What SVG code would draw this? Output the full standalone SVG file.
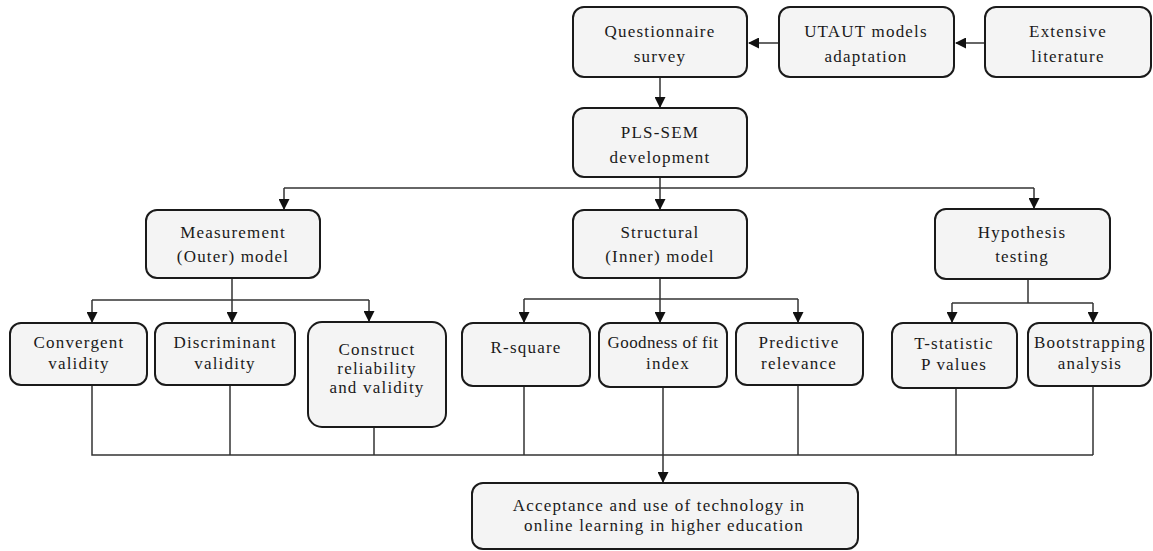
<svg xmlns="http://www.w3.org/2000/svg" width="1153" height="551" viewBox="0 0 1153 551">
<defs>
<marker id="ah" markerWidth="11" markerHeight="11" refX="10" refY="5.5" orient="auto" markerUnits="userSpaceOnUse">
<path d="M0,0 L11,5.5 L0,11 Z" fill="#111"/>
</marker>
<style>
.box{fill:#f4f4f4;stroke:#1a1a1a;stroke-width:2}
.t{font-family:"Liberation Serif","DejaVu Serif",serif;font-size:17px;fill:#1a1a1a;text-anchor:middle;letter-spacing:1.2px}
.tight{letter-spacing:0.4px}
.c{fill:none;stroke:#333;stroke-width:1.5}
</style>
</defs>
<rect width="1153" height="551" fill="#fff"/>
<g id="connectors">
<path class="c" d="M779,43 H749" marker-end="url(#ah)"/>
<path class="c" d="M985,43 H956" marker-end="url(#ah)"/>
<path class="c" d="M660,78 V107" marker-end="url(#ah)"/>
<path class="c" d="M660,178 V209" marker-end="url(#ah)"/>
<path class="c" d="M284,188 H1034"/>
<path class="c" d="M284,188 V209" marker-end="url(#ah)"/>
<path class="c" d="M1034,188 V208" marker-end="url(#ah)"/>
<path class="c" d="M232,279 V300"/>
<path class="c" d="M92,300 H369"/>
<path class="c" d="M92,300 V322" marker-end="url(#ah)"/>
<path class="c" d="M232,300 V322" marker-end="url(#ah)"/>
<path class="c" d="M369,300 V321" marker-end="url(#ah)"/>
<path class="c" d="M660,279 V299"/>
<path class="c" d="M524,299 H798"/>
<path class="c" d="M524,299 V322" marker-end="url(#ah)"/>
<path class="c" d="M660,299 V322" marker-end="url(#ah)"/>
<path class="c" d="M798,299 V322" marker-end="url(#ah)"/>
<path class="c" d="M1028,280 V303"/>
<path class="c" d="M952,303 H1093"/>
<path class="c" d="M952,303 V322" marker-end="url(#ah)"/>
<path class="c" d="M1093,303 V322" marker-end="url(#ah)"/>
<path class="c" d="M92,386 V455 H1093"/>
<path class="c" d="M230,386 V455"/>
<path class="c" d="M374,428 V455"/>
<path class="c" d="M524,387 V455"/>
<path class="c" d="M798,386 V455"/>
<path class="c" d="M956,389 V455"/>
<path class="c" d="M1093,387 V455"/>
<path class="c" d="M663,388 V482" marker-end="url(#ah)"/>
</g>
<g id="questionnaire"><rect class="box" x="573" y="7" width="174" height="70" rx="11"/><text class="t" x="660" y="37">Questionnaire</text><text class="t" x="660" y="62">survey</text></g>
<g id="utaut"><rect class="box" x="779" y="7" width="175" height="70" rx="11"/><text class="t" x="866" y="37">UTAUT models</text><text class="t" x="866" y="62">adaptation</text></g>
<g id="literature"><rect class="box" x="985" y="7" width="166" height="70" rx="11"/><text class="t" x="1068" y="37">Extensive</text><text class="t" x="1068" y="62">literature</text></g>
<g id="plssem"><rect class="box" x="573" y="108" width="174" height="69" rx="11"/><text class="t" x="660" y="138">PLS-SEM</text><text class="t" x="660" y="163">development</text></g>
<g id="measurement"><rect class="box" x="146" y="210" width="174" height="68" rx="11"/><text class="t" x="233" y="238">Measurement</text><text class="t" x="233" y="262">(Outer) model</text></g>
<g id="structural"><rect class="box" x="573" y="210" width="174" height="68" rx="11"/><text class="t" x="660" y="238">Structural</text><text class="t" x="660" y="262">(Inner) model</text></g>
<g id="hypothesis"><rect class="box" x="935" y="209" width="175" height="70" rx="11"/><text class="t" x="1022" y="238">Hypothesis</text><text class="t" x="1022" y="262">testing</text></g>
<g id="convergent"><rect class="box" x="10" y="323" width="137" height="62" rx="11"/><text class="t" x="79" y="348">Convergent</text><text class="t" x="79" y="369">validity</text></g>
<g id="discriminant"><rect class="box" x="155" y="323" width="140" height="62" rx="11"/><text class="t" x="225" y="348">Discriminant</text><text class="t" x="225" y="369">validity</text></g>
<g id="construct"><rect class="box" x="308" y="322" width="138" height="105" rx="14"/><text class="t" x="377" y="355">Construct</text><text class="t" x="377" y="374">reliability</text><text class="t" x="377" y="393">and validity</text></g>
<g id="rsquare"><rect class="box" x="462" y="323" width="128" height="63" rx="11"/><text class="t" x="526" y="353">R-square</text></g>
<g id="goodness"><rect class="box" x="599" y="323" width="128" height="64" rx="11"/><text class="t tight" x="663" y="348">Goodness of fit</text><text class="t" x="668" y="369">index</text></g>
<g id="predictive"><rect class="box" x="736" y="323" width="127" height="62" rx="11"/><text class="t" x="799" y="348">Predictive</text><text class="t" x="799" y="369">relevance</text></g>
<g id="tstatistic"><rect class="box" x="892" y="323" width="125" height="65" rx="11"/><text class="t" x="954" y="349">T-statistic</text><text class="t" x="954" y="370">P values</text></g>
<g id="bootstrapping"><rect class="box" x="1028" y="323" width="123" height="63" rx="11"/><text class="t" x="1090" y="348">Bootstrapping</text><text class="t" x="1090" y="369">analysis</text></g>
<g id="acceptance"><rect class="box" x="472" y="483" width="386" height="66" rx="11"/><text class="t" x="659" y="511">Acceptance and use of technology in</text><text class="t" x="664" y="531">online learning in higher education</text></g>
</svg>
